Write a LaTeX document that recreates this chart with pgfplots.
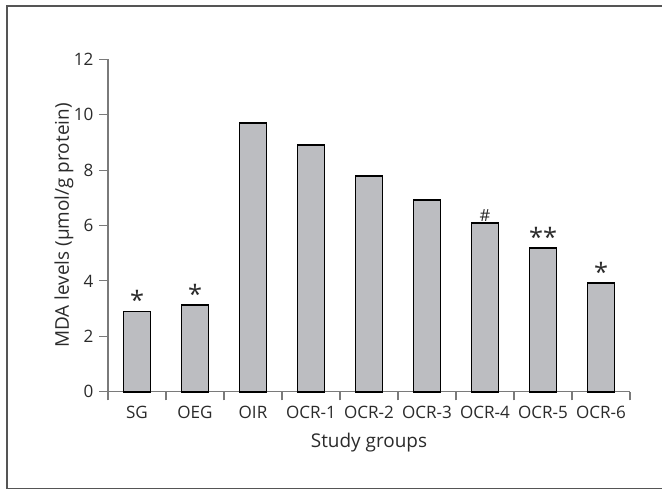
\documentclass[border=0pt]{standalone}
\usepackage{pgfplots}
\pgfplotsset{compat=1.18}
\usepackage{fontspec}
\setmainfont{Open Sans}
\definecolor{barfill}{HTML}{BCBDC1}
\definecolor{axgray}{HTML}{7A7A7A}
\definecolor{txt}{HTML}{2A2A2A}
\begin{document}
\begin{tikzpicture}[x=1pt,y=1pt]
\useasboundingbox (-81pt,-73.7pt) rectangle (415.5pt,293.8pt);
\begin{axis}[
  at={(0,0)}, anchor=south west,
  scale only axis,
  width=391.5pt, height=249.3pt,
  xmin=-0.5, xmax=8.5, ymin=0, ymax=12,
  axis lines*=left,
  axis line style={axgray, line width=0.8pt},
  ybar, bar width=20.25pt, bar shift=0pt,
  ytick={0,2,...,12},
  xtick={0,...,8},
  xticklabels={SG,OEG,OIR,OCR-1,OCR-2,OCR-3,OCR-4,OCR-5,OCR-6},
  minor xtick={-0.5,0.5,...,8.5},
  tick align=outside,
  major tick length=6.4pt,
  minor tick length=6.4pt,
  x tick style={draw=none},
  minor x tick style={draw=axgray, line width=0.8pt},
  y tick style={draw=axgray, line width=0.8pt},
  tick label style={font=\fontsize{12.8}{14}\selectfont, text=txt},
  /pgf/number format/assume math mode=true,
  xticklabel style={yshift=-1pt},
  yticklabel style={xshift=-1pt},
  label style={font=\fontsize{14.2}{16}\selectfont, text=txt},
  ylabel={MDA levels (µmol/g protein)},
  xlabel={Study groups},
  ylabel style={at={(axis description cs:-0.0748,0.5)}, anchor=base},
  xlabel style={at={(axis description cs:0.5,-0.1664)}, anchor=base},
  clip=false,
]
\addplot[fill=barfill, draw=black, line width=1.3pt]
  coordinates {(0,2.9) (1,3.12) (2,9.71) (3,8.92) (4,7.8) (5,6.92) (6,6.1) (7,5.2) (8,3.93)};
\addplot[draw=none, fill=none, nodes near coords, point meta=explicit symbolic,
  every node near coord/.style={anchor=south, text=txt, font=\fontsize{19}{20}\selectfont, inner sep=1pt}]
  coordinates {(0,2.9)[*] (1,3.12)[*] (6,6.1)[{\fontsize{12.5}{13}\selectfont\#}] (7,5.2)[**] (8,3.93)[*]};
\end{axis}
\draw[axgray!70!black, line width=1.1pt] (420pt,289.3pt) -- (-75.75pt,289.3pt) -- (-75.75pt,-72.5pt) -- (420pt,-72.5pt);
\end{tikzpicture}
\end{document}
